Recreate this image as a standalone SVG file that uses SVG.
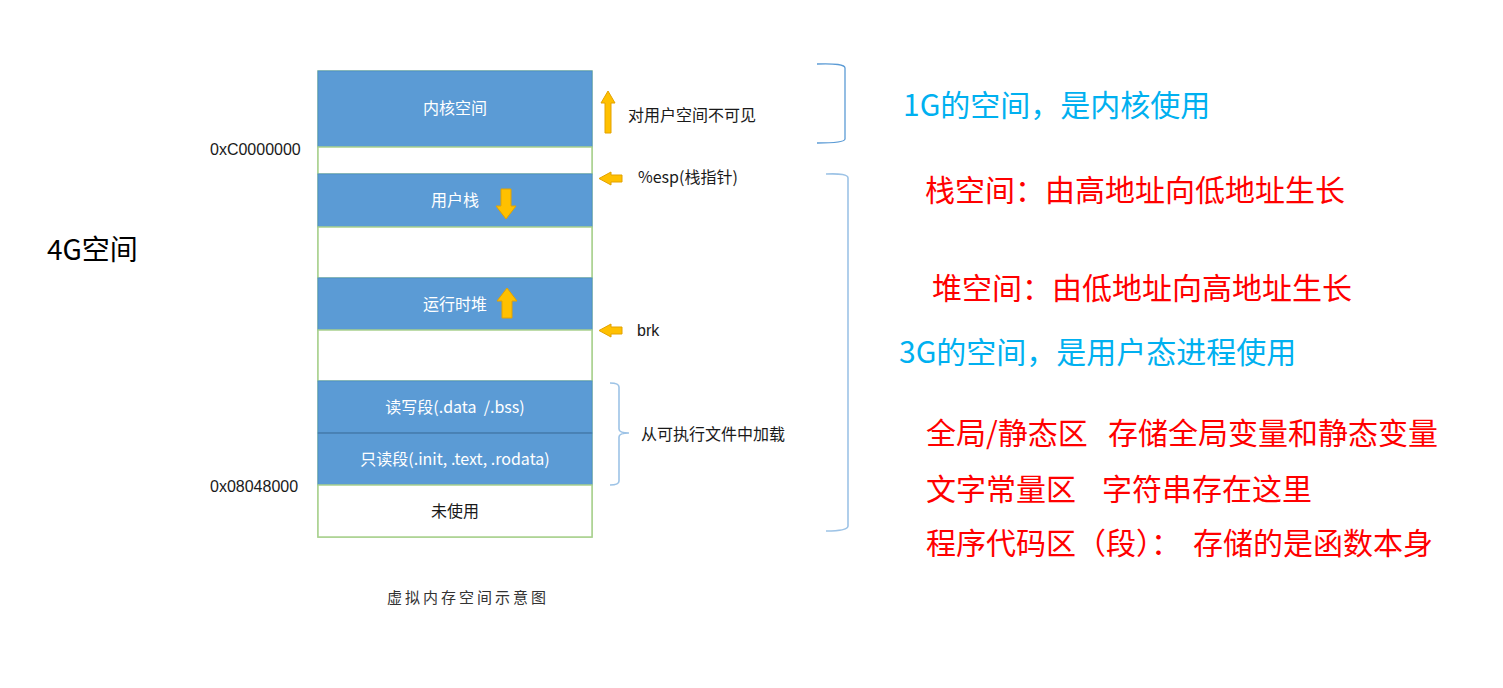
<svg xmlns="http://www.w3.org/2000/svg" width="1503" height="688" viewBox="0 0 1503 688">
<defs>
<style>
.t{font-family:"Liberation Sans","Noto Sans CJK SC",sans-serif;}
.c{font-family:"Noto Sans CJK SC","Liberation Sans",sans-serif;}
.seg{fill:#5b9bd5;stroke:#4f8fc8;stroke-width:1;}
.emp{fill:#ffffff;stroke:#a9d18e;stroke-width:1.5;}
.wl{fill:#ffffff;font-size:16px;}
.bl{fill:#1a1a1a;font-size:16px;}
.arr{fill:#ffc000;stroke:#e3a200;stroke-width:1;}
.br{fill:none;stroke:#5b9bd5;stroke-width:1.3;}
.br2{fill:none;stroke:#9dc3e6;stroke-width:1.6;}
.blue{fill:#00b0f0;font-size:30px;}
.red{fill:#ff0000;font-size:30px;}
</style>
</defs>
<rect width="1503" height="688" fill="#ffffff"/>

<g id="outer">
<rect x="318" y="71" width="274" height="466" class="emp"/>
</g>
<g id="kernel">
<rect x="318" y="71" width="274" height="76" class="seg"/>
<text x="455" y="114" text-anchor="middle" class="c wl">内核空间</text>
</g>
<g id="gap1"><rect x="318" y="147" width="274" height="27" class="emp"/></g>
<g id="ustack">
<rect x="318" y="174" width="274" height="53" class="seg"/>
<text x="455" y="206" text-anchor="middle" class="c wl">用户栈</text>
<path class="arr" d="M501,189 H511 V206 H516 L506,219 L496,206 H501 Z"/>
</g>
<g id="gap2"><rect x="318" y="227" width="274" height="51" class="emp"/></g>
<g id="heap">
<rect x="318" y="278" width="274" height="52" class="seg"/>
<text x="455" y="310" text-anchor="middle" class="c wl">运行时堆</text>
<path class="arr" d="M502,318 H512 V301 H517 L507,288 L497,301 H502 Z"/>
</g>
<g id="gap3"><rect x="318" y="330" width="274" height="51" class="emp"/></g>
<g id="rw">
<rect x="318" y="381" width="274" height="52" class="seg"/>
<text x="455" y="413" text-anchor="middle" class="c wl" xml:space="preserve">读写段(.data  /.bss)</text>
</g>
<g id="ro">
<rect x="318" y="433" width="274" height="52" class="seg"/>
<line x1="318" y1="433" x2="592" y2="433" stroke="#41719c" stroke-width="1"/>
<text x="455" y="465" text-anchor="middle" class="c wl">只读段(.init, .text, .rodata)</text>
</g>
<g id="unused">
<rect x="318" y="485" width="274" height="52" class="emp"/>
<text x="455" y="517" text-anchor="middle" class="c bl">未使用</text>
</g>

<g id="addr">
<text x="210" y="155" class="t bl">0xC0000000</text>
<text x="210" y="492" class="t bl">0x08048000</text>
</g>
<g id="label4g">
<text x="47" y="260" class="c" font-size="28" fill="#000000">4G空间</text>
</g>

<g id="connectors">
<path class="arr" d="M605,133 H611 V103 H615 L608,91 L601,103 H605 Z"/>
<path class="arr" d="M622,175 V182 H611 V185 L599,178.5 L611,172 V175 Z"/>
<path class="arr" d="M622,327 V334 H611 V337 L599,330.5 L611,324 V327 Z"/>
<path class="br" d="M817,64 Q845,63 845,68 V139 Q845,143 817,143"/>
<path class="br2" d="M826,174 Q848,173 848,178 V526 Q848,531 826,531"/>
<path class="br2" d="M610,383 Q619,383 619,387 V429 Q619,433 629,433 Q619,433 619,437 V481 Q619,485 610,485"/>
</g>

<g id="notes">
<text x="628" y="121" class="c bl">对用户空间不可见</text>
<text x="638" y="183" class="c bl">%esp(栈指针)</text>
<text x="637" y="336" class="t bl">brk</text>
<text x="641" y="440" class="c bl">从可执行文件中加载</text>
</g>

<g id="caption">
<text x="468" y="603" text-anchor="middle" class="c" font-size="15" letter-spacing="3" fill="#333333">虚拟内存空间示意图</text>
</g>

<g id="right-text">
<text x="903" y="116" class="c blue">1G的空间，是内核使用</text>
<text x="925" y="201" class="c red">栈空间：由高地址向低地址生长</text>
<text x="932" y="299" class="c red">堆空间：由低地址向高地址生长</text>
<text x="899" y="363" class="c blue">3G的空间，是用户态进程使用</text>
<text y="444" class="c red"><tspan x="926">全局/静态区</tspan><tspan x="1108">存储全局变量和静态变量</tspan></text>
<text y="500" class="c red"><tspan x="926">文字常量区</tspan><tspan x="1102">字符串存在这里</tspan></text>
<text y="554" class="c red"><tspan x="926">程序代码区（段）：</tspan><tspan x="1193">存储的是函数本身</tspan></text>
</g>
</svg>
